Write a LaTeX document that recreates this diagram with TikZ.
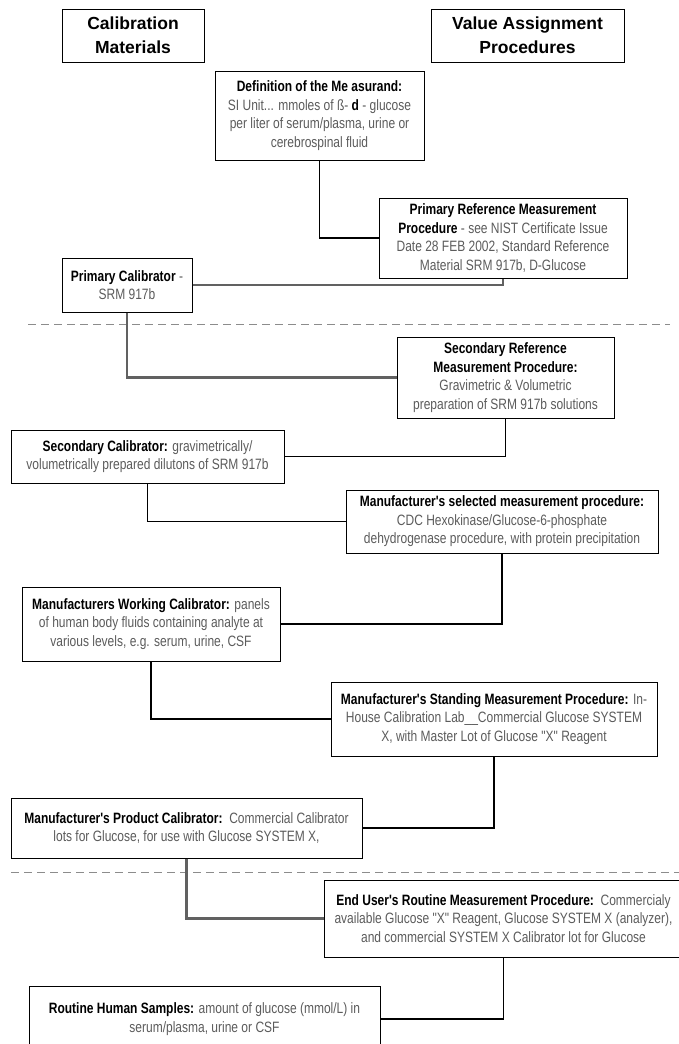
\documentclass[tikz,border=0pt]{standalone}
\usepackage{fontspec}
\setmainfont{Liberation Sans}
\newfontfamily\narrowfont{Liberation Sans}[FakeStretch=0.8]
\usepackage{tikz}
\usetikzlibrary{positioning}
\definecolor{bodygrey}{rgb}{0.36,0.36,0.36}
\definecolor{linkgrey}{rgb}{0.38,0.38,0.38}
\definecolor{dashgrey}{rgb}{0.55,0.55,0.55}
\newcommand{\hd}[1]{\textbf{\color{black}#1}}

\tikzset{
  box/.style={draw, line width=1pt, fill=white, align=center, inner sep=2pt,
    text=bodygrey, font=\narrowfont\fontsize{15}{18.5}\selectfont},
  headbox/.style={draw, line width=1pt, fill=white, align=center,
    font=\bfseries\fontsize{17.5}{24}\selectfont},
  link/.style={line width=1.4pt},
  greylink/.style={line width=2.2pt, draw=linkgrey},
  divider/.style={dash pattern=on 8pt off 5pt, line width=1pt, draw=dashgrey}
}

\begin{document}
\begin{tikzpicture}[x=1pt, y=-1pt]
  \useasboundingbox (0, 0) rectangle (679, 1044);

  \node[headbox, minimum width=142pt, minimum height=53pt] (calmat) at (133, 35.5)
    {Calibration\\Materials};
  \node[headbox, minimum width=193pt, minimum height=53pt] (valass) at (527.5, 35.5)
    {Value Assignment\\Procedures};

  \node[box, minimum width=209pt, minimum height=89pt] (defn) at (319.5, 115.5)
    {\hd{Definition of the Me asurand:}\\SI Unit... mmoles of ß- \hd{d} - glucose\\
     per liter of serum/plasma, urine or\\cerebrospinal fluid};
  \node[box, minimum width=248pt, minimum height=80pt] (prmp) at (503, 238)
    {\hd{Primary Reference Measurement}\\\hd{Procedure} - see NIST Certificate Issue\\
     Date 28 FEB 2002, Standard Reference\\Material SRM 917b, D-Glucose};
  \node[box, minimum width=130pt, minimum height=54pt] (pcal) at (127, 285)
    {\hd{Primary Calibrator} -\\SRM 917b};

  \draw[divider] (28, 324) -- (670, 324);

  \node[box, minimum width=217pt, minimum height=81pt] (srmp) at (505.5, 377.5)
    {\hd{Secondary Reference}\\\hd{Measurement Procedure:}\\
     Gravimetric \& Volumetric\\preparation of SRM 917b solutions};
  \node[box, minimum width=273pt, minimum height=53pt] (scal) at (147.5, 456.5)
    {\hd{Secondary Calibrator:} gravimetrically/\\
     volumetrically prepared dilutons of SRM 917b};
  \node[box, minimum width=312pt, minimum height=63pt] (msmp) at (502, 521.5)
    {\hd{Manufacturer's selected measurement procedure:}\\
     CDC Hexokinase/Glucose-6-phosphate\\
     dehydrogenase procedure, with protein precipitation};
  \node[box, minimum width=258pt, minimum height=74pt] (wcal) at (151, 624)
    {\hd{Manufacturers Working Calibrator:} panels\\
     of human body fluids containing analyte at\\various levels, e.g. serum, urine, CSF};
  \node[box, minimum width=326pt, minimum height=74pt] (smp) at (494, 719)
    {\hd{Manufacturer's Standing Measurement Procedure:} In-\\
     House Calibration Lab\_\_Commercial Glucose SYSTEM\\
     X, with Master Lot of Glucose "X" Reagent};
  \node[box, minimum width=351pt, minimum height=60pt] (prodcal) at (186.5, 828)
    {\hd{Manufacturer's Product Calibrator:}\ \ Commercial Calibrator\\
     lots for Glucose, for use with Glucose SYSTEM X,};

  \draw[divider] (11, 872) -- (679, 872);

  \node[box, minimum width=359pt, minimum height=77pt] (eump) at (503.5, 918.5)
    {\hd{End User's Routine Measurement Procedure:}\ \ Commercialy\\
     available Glucose "X" Reagent, Glucose SYSTEM X (analyzer),\\
     and commercial SYSTEM X Calibrator lot for Glucose};
  \node[box, minimum width=351pt, minimum height=66pt] (routine) at (204.5, 1019)
    {\hd{Routine Human Samples:} amount of glucose (mmol/L) in\\serum/plasma, urine or CSF};

  \draw[link] (defn.south) |- (prmp.west);
  \draw[greylink] (pcal.east) -| (prmp.south);
  \draw[greylink] (pcal.south) |- (srmp.west);
  \draw[link] (srmp.south) |- (scal.east);
  \draw[link] (scal.south) |- (msmp.west);
  \draw[link] (msmp.south) |- (wcal.east);
  \draw[link] (wcal.south) |- (smp.west);
  \draw[link] (smp.south) |- (prodcal.east);
  \draw[greylink] (prodcal.south) |- (eump.west);
  \draw[link] (eump.south) |- (routine.east);
\end{tikzpicture}
\end{document}
